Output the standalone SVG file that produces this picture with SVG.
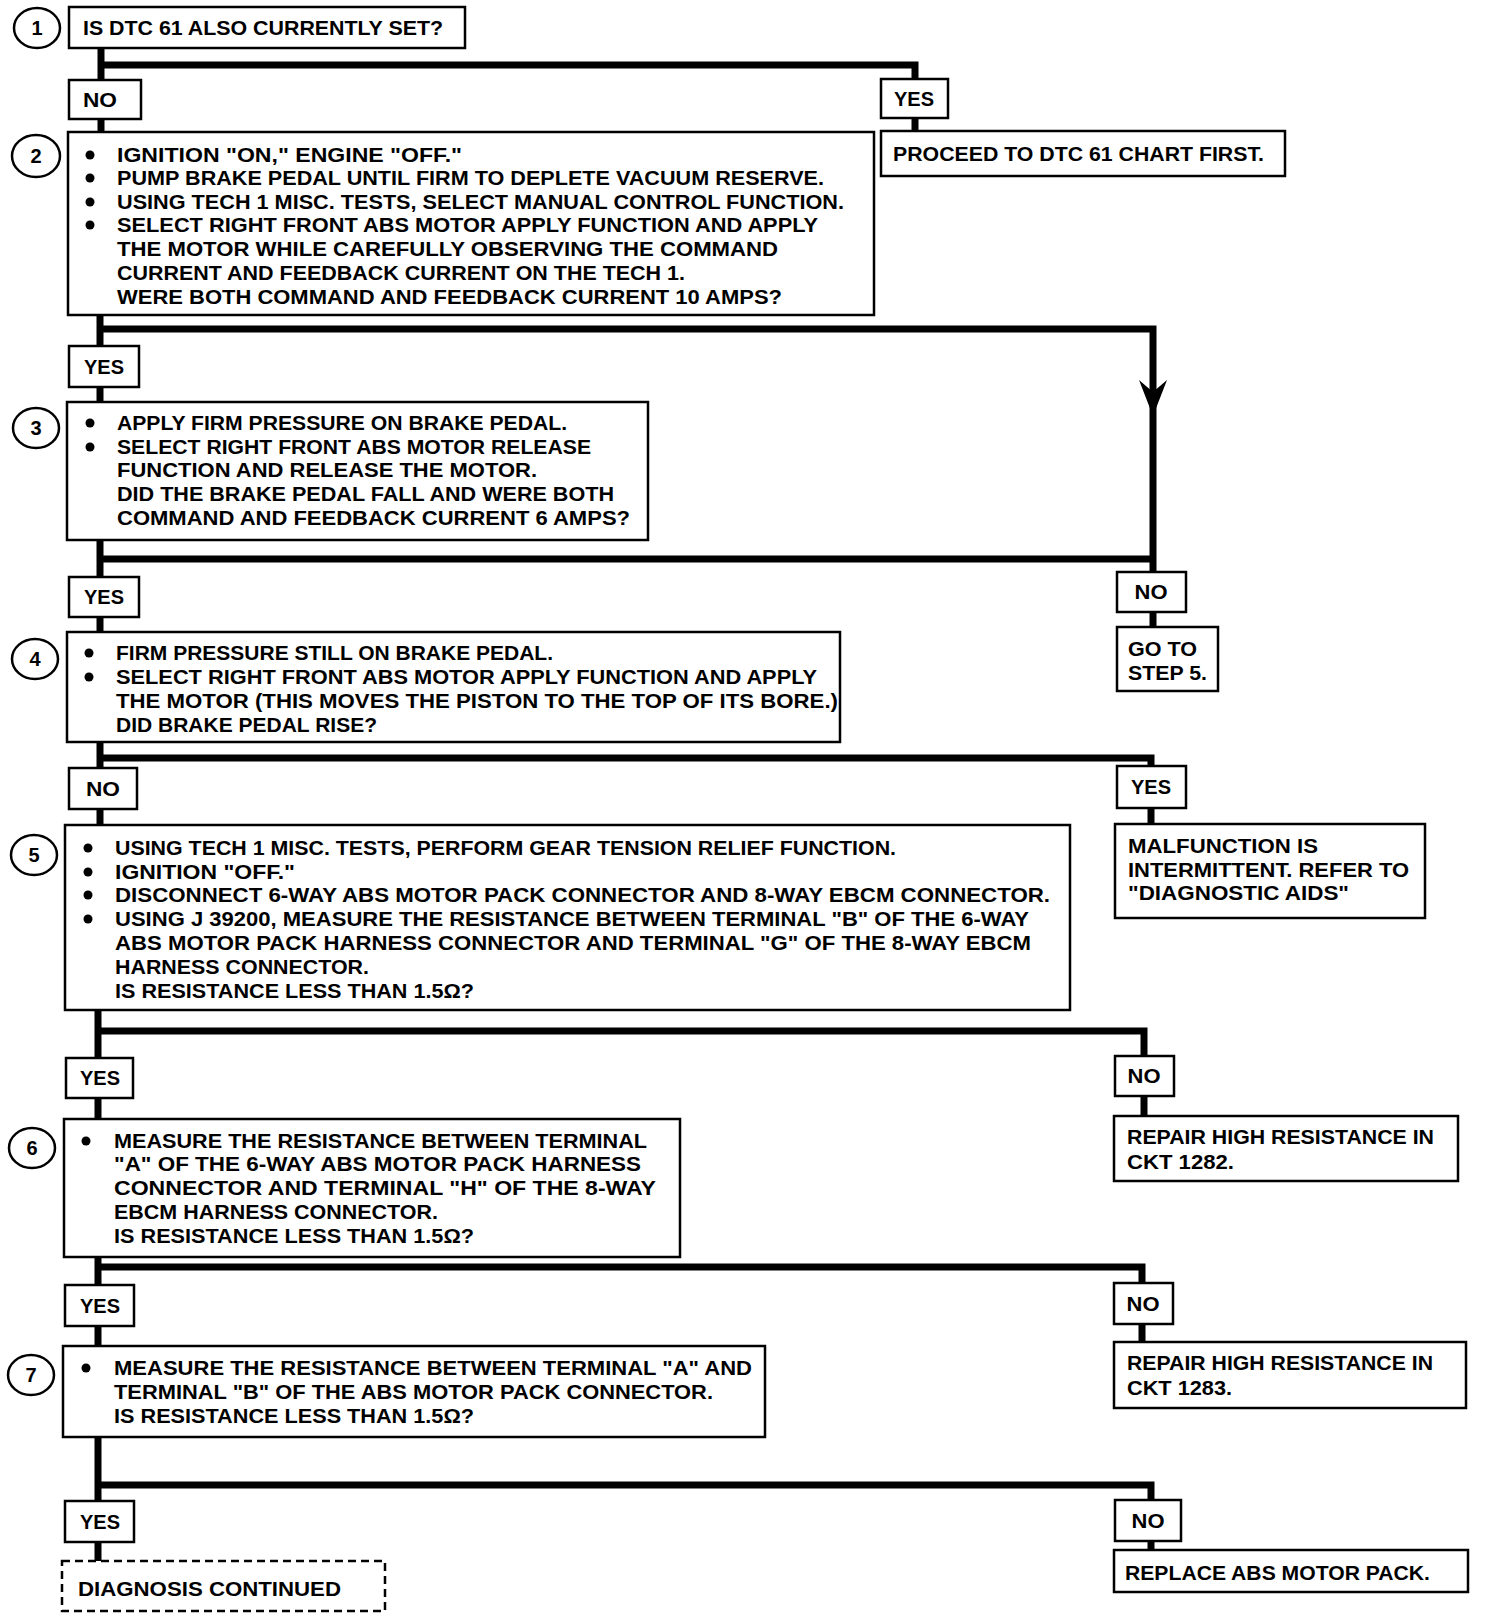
<svg xmlns="http://www.w3.org/2000/svg" width="1488" height="1620" viewBox="0 0 1488 1620">
<style>
.box{fill:#fff;stroke:#000;stroke-width:2.5}
.dash{fill:#fff;stroke:#000;stroke-width:2.5;stroke-dasharray:8 5}
.t{font-family:'Liberation Sans',Arial,sans-serif;font-weight:bold;font-size:20px;fill:#000}
.n{font-family:'Liberation Sans',Arial,sans-serif;font-weight:bold;font-size:20px;fill:#000;text-anchor:middle}
.c{fill:none;stroke:#000;stroke-width:2.5}
.conn{fill:none;stroke:#000;stroke-width:7}
.b{fill:#000}
</style>
<rect width="1488" height="1620" fill="#fff"/>
<g id="connectors">
<polyline class="conn" points="101,48 101,80"/>
<polyline class="conn" points="101,65 915,65 915,79"/>
<polyline class="conn" points="915,118 915,131"/>
<polyline class="conn" points="101,119 101,132"/>
<polyline class="conn" points="100,315 100,346"/>
<polyline class="conn" points="100,329 1153,329 1153,572"/>
<polygon class="b" points="1139,380 1153,416 1167,380 1153,392"/>
<polyline class="conn" points="100,387 100,402"/>
<polyline class="conn" points="100,540 100,577"/>
<polyline class="conn" points="100,559 1153,559"/>
<polyline class="conn" points="1153,612 1153,627"/>
<polyline class="conn" points="100,617 100,632"/>
<polyline class="conn" points="100,742 100,768"/>
<polyline class="conn" points="100,758 1151,758 1151,766"/>
<polyline class="conn" points="100,809 100,825"/>
<polyline class="conn" points="1151,808 1151,824"/>
<polyline class="conn" points="98,1010 98,1058"/>
<polyline class="conn" points="98,1031 1144,1031 1144,1056"/>
<polyline class="conn" points="98,1098 98,1119"/>
<polyline class="conn" points="1144,1096 1144,1116"/>
<polyline class="conn" points="98,1257 98,1285"/>
<polyline class="conn" points="98,1267 1142,1267 1142,1283"/>
<polyline class="conn" points="98,1326 98,1346"/>
<polyline class="conn" points="1142,1324 1142,1342"/>
<polyline class="conn" points="98,1437 98,1501"/>
<polyline class="conn" points="98,1485 1151,1485 1151,1500"/>
<polyline class="conn" points="98,1542 98,1561"/>
<polyline class="conn" points="1151,1541 1151,1550"/>
</g>
<g id="step1">
<ellipse class="c" cx="37" cy="28" rx="23" ry="20"/>
<text class="n" x="37" y="35">1</text>
<rect class="box" x="69" y="7" width="396" height="41"/>
<text class="t" x="83" y="35" textLength="360" lengthAdjust="spacingAndGlyphs">IS DTC 61 ALSO CURRENTLY SET?</text>
</g>
<g id="no1"><rect class="box" x="69" y="80" width="72" height="39"/><text class="n" x="100" y="107" textLength="34" lengthAdjust="spacingAndGlyphs">NO</text></g>
<g id="yes1"><rect class="box" x="881" y="79" width="67" height="39"/><text class="n" x="914" y="106" textLength="40" lengthAdjust="spacingAndGlyphs">YES</text></g>
<g id="proceed">
<rect class="box" x="881" y="131" width="404" height="45"/>
<text class="t" x="893" y="161" textLength="371" lengthAdjust="spacingAndGlyphs">PROCEED TO DTC 61 CHART FIRST.</text>
</g>
<g id="step2">
<ellipse class="c" cx="36" cy="156" rx="24" ry="21"/>
<text class="n" x="36" y="163">2</text>
<rect class="box" x="68" y="132" width="806" height="183"/>
<circle class="b" cx="90" cy="155" r="4.5"/><circle class="b" cx="90" cy="178" r="4.5"/><circle class="b" cx="90" cy="202" r="4.5"/><circle class="b" cx="90" cy="225" r="4.5"/>
<text class="t" x="117" y="162" textLength="345" lengthAdjust="spacingAndGlyphs">IGNITION "ON," ENGINE "OFF."</text>
<text class="t" x="117" y="185" textLength="707" lengthAdjust="spacingAndGlyphs">PUMP BRAKE PEDAL UNTIL FIRM TO DEPLETE VACUUM RESERVE.</text>
<text class="t" x="117" y="209" textLength="727" lengthAdjust="spacingAndGlyphs">USING TECH 1 MISC. TESTS, SELECT MANUAL CONTROL FUNCTION.</text>
<text class="t" x="117" y="232" textLength="701" lengthAdjust="spacingAndGlyphs">SELECT RIGHT FRONT ABS MOTOR APPLY FUNCTION AND APPLY</text>
<text class="t" x="117" y="256" textLength="661" lengthAdjust="spacingAndGlyphs">THE MOTOR WHILE CAREFULLY OBSERVING THE COMMAND</text>
<text class="t" x="117" y="280" textLength="568" lengthAdjust="spacingAndGlyphs">CURRENT AND FEEDBACK CURRENT ON THE TECH 1.</text>
<text class="t" x="117" y="304" textLength="665" lengthAdjust="spacingAndGlyphs">WERE BOTH COMMAND AND FEEDBACK CURRENT 10 AMPS?</text>
</g>
<g id="yes2"><rect class="box" x="69" y="346" width="70" height="41"/><text class="n" x="104" y="374" textLength="40" lengthAdjust="spacingAndGlyphs">YES</text></g>
<g id="step3">
<ellipse class="c" cx="36" cy="428" rx="23" ry="20"/>
<text class="n" x="36" y="435">3</text>
<rect class="box" x="67" y="402" width="581" height="138"/>
<circle class="b" cx="90" cy="423" r="4.5"/><circle class="b" cx="90" cy="447" r="4.5"/>
<text class="t" x="117" y="430" textLength="450" lengthAdjust="spacingAndGlyphs">APPLY FIRM PRESSURE ON BRAKE PEDAL.</text>
<text class="t" x="117" y="454" textLength="474" lengthAdjust="spacingAndGlyphs">SELECT RIGHT FRONT ABS MOTOR RELEASE</text>
<text class="t" x="117" y="477" textLength="420" lengthAdjust="spacingAndGlyphs">FUNCTION AND RELEASE THE MOTOR.</text>
<text class="t" x="117" y="501" textLength="497" lengthAdjust="spacingAndGlyphs">DID THE BRAKE PEDAL FALL AND WERE BOTH</text>
<text class="t" x="117" y="525" textLength="513" lengthAdjust="spacingAndGlyphs">COMMAND AND FEEDBACK CURRENT 6 AMPS?</text>
</g>
<g id="yes3"><rect class="box" x="69" y="577" width="70" height="40"/><text class="n" x="104" y="604" textLength="40" lengthAdjust="spacingAndGlyphs">YES</text></g>
<g id="no3"><rect class="box" x="1117" y="572" width="69" height="40"/><text class="n" x="1151" y="599" textLength="33" lengthAdjust="spacingAndGlyphs">NO</text></g>
<g id="goto5">
<rect class="box" x="1117" y="627" width="101" height="64"/>
<text class="t" x="1128" y="656" textLength="69" lengthAdjust="spacingAndGlyphs">GO TO</text>
<text class="t" x="1128" y="680" textLength="79" lengthAdjust="spacingAndGlyphs">STEP 5.</text>
</g>
<g id="step4">
<ellipse class="c" cx="35" cy="659" rx="23" ry="20"/>
<text class="n" x="35" y="666">4</text>
<rect class="box" x="67" y="632" width="773" height="110"/>
<circle class="b" cx="89" cy="653" r="4.5"/><circle class="b" cx="89" cy="677" r="4.5"/>
<text class="t" x="116" y="660" textLength="437" lengthAdjust="spacingAndGlyphs">FIRM PRESSURE STILL ON BRAKE PEDAL.</text>
<text class="t" x="116" y="684" textLength="701" lengthAdjust="spacingAndGlyphs">SELECT RIGHT FRONT ABS MOTOR APPLY FUNCTION AND APPLY</text>
<text class="t" x="116" y="708" textLength="722" lengthAdjust="spacingAndGlyphs">THE MOTOR (THIS MOVES THE PISTON TO THE TOP OF ITS BORE.)</text>
<text class="t" x="116" y="732" textLength="261" lengthAdjust="spacingAndGlyphs">DID BRAKE PEDAL RISE?</text>
</g>
<g id="no4"><rect class="box" x="69" y="768" width="68" height="41"/><text class="n" x="103" y="796" textLength="34" lengthAdjust="spacingAndGlyphs">NO</text></g>
<g id="yes4"><rect class="box" x="1117" y="766" width="69" height="42"/><text class="n" x="1151" y="794" textLength="40" lengthAdjust="spacingAndGlyphs">YES</text></g>
<g id="malfunction">
<rect class="box" x="1115" y="824" width="310" height="94"/>
<text class="t" x="1128" y="853" textLength="190" lengthAdjust="spacingAndGlyphs">MALFUNCTION IS</text>
<text class="t" x="1128" y="877" textLength="281" lengthAdjust="spacingAndGlyphs">INTERMITTENT.  REFER TO</text>
<text class="t" x="1128" y="900" textLength="221" lengthAdjust="spacingAndGlyphs">"DIAGNOSTIC AIDS"</text>
</g>
<g id="step5">
<ellipse class="c" cx="34" cy="855" rx="23" ry="20"/>
<text class="n" x="34" y="862">5</text>
<rect class="box" x="65" y="825" width="1005" height="185"/>
<circle class="b" cx="88" cy="848" r="4.5"/><circle class="b" cx="88" cy="872" r="4.5"/><circle class="b" cx="88" cy="895" r="4.5"/><circle class="b" cx="88" cy="919" r="4.5"/>
<text class="t" x="115" y="855" textLength="781" lengthAdjust="spacingAndGlyphs">USING TECH 1 MISC. TESTS, PERFORM GEAR TENSION RELIEF FUNCTION.</text>
<text class="t" x="115" y="879" textLength="180" lengthAdjust="spacingAndGlyphs">IGNITION "OFF."</text>
<text class="t" x="115" y="902" textLength="935" lengthAdjust="spacingAndGlyphs">DISCONNECT 6-WAY ABS MOTOR PACK CONNECTOR AND 8-WAY EBCM CONNECTOR.</text>
<text class="t" x="115" y="926" textLength="914" lengthAdjust="spacingAndGlyphs">USING J 39200, MEASURE THE RESISTANCE BETWEEN TERMINAL "B" OF THE 6-WAY</text>
<text class="t" x="115" y="950" textLength="916" lengthAdjust="spacingAndGlyphs">ABS MOTOR PACK HARNESS CONNECTOR AND TERMINAL "G" OF THE 8-WAY EBCM</text>
<text class="t" x="115" y="974" textLength="254" lengthAdjust="spacingAndGlyphs">HARNESS CONNECTOR.</text>
<text class="t" x="115" y="998" textLength="359" lengthAdjust="spacingAndGlyphs">IS RESISTANCE LESS THAN 1.5Ω?</text>
</g>
<g id="yes5"><rect class="box" x="66" y="1058" width="67" height="40"/><text class="n" x="100" y="1085" textLength="40" lengthAdjust="spacingAndGlyphs">YES</text></g>
<g id="no5"><rect class="box" x="1115" y="1056" width="59" height="40"/><text class="n" x="1144" y="1083" textLength="33" lengthAdjust="spacingAndGlyphs">NO</text></g>
<g id="repair1282">
<rect class="box" x="1114" y="1116" width="344" height="65"/>
<text class="t" x="1127" y="1144" textLength="307" lengthAdjust="spacingAndGlyphs">REPAIR HIGH RESISTANCE IN</text>
<text class="t" x="1127" y="1169" textLength="107" lengthAdjust="spacingAndGlyphs">CKT 1282.</text>
</g>
<g id="step6">
<ellipse class="c" cx="32" cy="1148" rx="23" ry="20"/>
<text class="n" x="32" y="1155">6</text>
<rect class="box" x="64" y="1119" width="616" height="138"/>
<circle class="b" cx="86" cy="1141" r="4.5"/>
<text class="t" x="114" y="1148" textLength="533" lengthAdjust="spacingAndGlyphs">MEASURE THE RESISTANCE BETWEEN TERMINAL</text>
<text class="t" x="114" y="1171" textLength="527" lengthAdjust="spacingAndGlyphs">"A" OF THE 6-WAY ABS MOTOR PACK HARNESS</text>
<text class="t" x="114" y="1195" textLength="542" lengthAdjust="spacingAndGlyphs">CONNECTOR  AND  TERMINAL "H" OF THE 8-WAY</text>
<text class="t" x="114" y="1219" textLength="324" lengthAdjust="spacingAndGlyphs">EBCM HARNESS CONNECTOR.</text>
<text class="t" x="114" y="1243" textLength="360" lengthAdjust="spacingAndGlyphs">IS RESISTANCE LESS THAN 1.5Ω?</text>
</g>
<g id="yes6"><rect class="box" x="65" y="1285" width="69" height="41"/><text class="n" x="100" y="1313" textLength="40" lengthAdjust="spacingAndGlyphs">YES</text></g>
<g id="no6"><rect class="box" x="1114" y="1283" width="59" height="41"/><text class="n" x="1143" y="1311" textLength="33" lengthAdjust="spacingAndGlyphs">NO</text></g>
<g id="repair1283">
<rect class="box" x="1114" y="1342" width="352" height="66"/>
<text class="t" x="1127" y="1370" textLength="306" lengthAdjust="spacingAndGlyphs">REPAIR HIGH RESISTANCE IN</text>
<text class="t" x="1127" y="1395" textLength="105" lengthAdjust="spacingAndGlyphs">CKT 1283.</text>
</g>
<g id="step7">
<ellipse class="c" cx="31" cy="1375" rx="23" ry="20"/>
<text class="n" x="31" y="1382">7</text>
<rect class="box" x="63" y="1346" width="702" height="91"/>
<circle class="b" cx="86" cy="1368" r="4.5"/>
<text class="t" x="114" y="1375" textLength="638" lengthAdjust="spacingAndGlyphs">MEASURE THE RESISTANCE BETWEEN TERMINAL "A" AND</text>
<text class="t" x="114" y="1399" textLength="599" lengthAdjust="spacingAndGlyphs">TERMINAL "B" OF THE ABS MOTOR PACK CONNECTOR.</text>
<text class="t" x="114" y="1423" textLength="360" lengthAdjust="spacingAndGlyphs">IS RESISTANCE LESS THAN 1.5Ω?</text>
</g>
<g id="yes7"><rect class="box" x="65" y="1501" width="69" height="41"/><text class="n" x="100" y="1529" textLength="40" lengthAdjust="spacingAndGlyphs">YES</text></g>
<g id="no7"><rect class="box" x="1115" y="1500" width="66" height="41"/><text class="n" x="1148" y="1528" textLength="33" lengthAdjust="spacingAndGlyphs">NO</text></g>
<g id="continued">
<rect class="dash" x="62" y="1561" width="323" height="50"/>
<text class="t" x="78" y="1596" textLength="263" lengthAdjust="spacingAndGlyphs">DIAGNOSIS CONTINUED</text>
</g>
<g id="replace">
<rect class="box" x="1114" y="1550" width="354" height="42"/>
<text class="t" x="1125" y="1580" textLength="305" lengthAdjust="spacingAndGlyphs">REPLACE ABS MOTOR PACK.</text>
</g>
</svg>
